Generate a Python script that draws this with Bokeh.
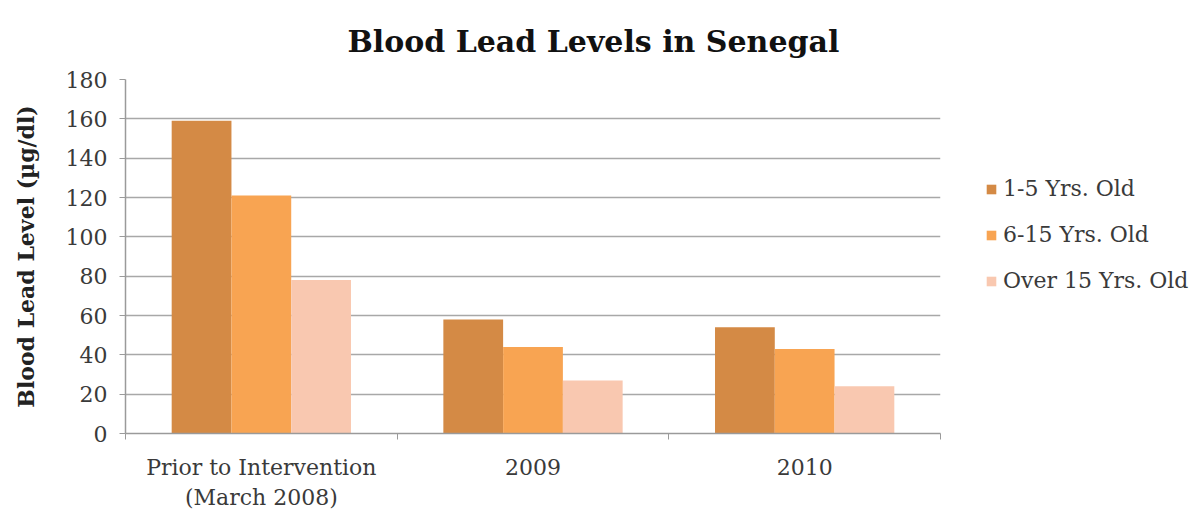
from bokeh.plotting import figure
from bokeh.models import ColumnDataSource, FixedTicker, Legend, LegendItem, Range1d, Title
from bokeh.embed import file_html
from bokeh.resources import INLINE

categories = ["Prior to Intervention\n(March 2008)", "2009", "2010"]
series_names = ["1-5 Yrs. Old", "6-15 Yrs. Old", "Over 15 Yrs. Old"]
age_1_5 = [159, 58, 54]
age_6_15 = [121, 44, 43]
age_over_15 = [78, 27, 24]
colors = ["#D48A45", "#F8A452", "#F9C8B0"]
y_ticks = [0, 20, 40, 60, 80, 100, 120, 140, 160, 180]

FONT = "DejaVu Serif"

p = figure(frame_width=815, frame_height=354, output_backend="svg", toolbar_location=None,
           x_range=Range1d(0, len(categories)), y_range=Range1d(0, 180))
p.min_border_left = 125
p.min_border_right = 0
p.min_border_top = 78
p.min_border_bottom = 88
p.outline_line_color = None
p.background_fill_color = "white"
p.border_fill_color = "white"

bar_w = 0.22
offsets = [-bar_w, 0, bar_w]
renderers = []
for vals, off, col in zip([age_1_5, age_6_15, age_over_15], offsets, colors):
    src = ColumnDataSource(dict(x=[i + 0.5 + off for i in range(len(categories))], top=vals))
    r = p.vbar(x="x", top="top", width=bar_w, bottom=0, source=src,
               fill_color=col, line_color=None)
    renderers.append(r)

# axes
p.xaxis.ticker = FixedTicker(ticks=[i + 0.5 for i in range(len(categories))],
                             minor_ticks=list(range(len(categories) + 1)))
p.xaxis.major_label_overrides = {i + 0.5: c for i, c in enumerate(categories)}
p.xaxis.major_tick_line_color = None
p.xaxis.minor_tick_line_color = "#9a9a9a"
p.xaxis.minor_tick_out = 6
p.xaxis.minor_tick_in = 0
p.xaxis.axis_line_color = "#9a9a9a"
p.xaxis.axis_line_width = 1.5
p.xaxis.major_label_text_font = FONT
p.xaxis.major_label_text_font_size = "22px"
p.xaxis.major_label_text_color = "#3a3a3a"
p.xaxis.major_label_standoff = 15

p.yaxis.ticker = FixedTicker(ticks=y_ticks, minor_ticks=[])
p.yaxis.axis_line_color = "#9a9a9a"
p.yaxis.axis_line_width = 1.5
p.yaxis.major_tick_line_color = "#9a9a9a"
p.yaxis.major_tick_out = 6
p.yaxis.major_tick_in = 0
p.yaxis.major_label_text_font = FONT
p.yaxis.major_label_text_font_size = "22px"
p.yaxis.major_label_text_color = "#3a3a3a"
p.yaxis.major_label_standoff = 12
p.yaxis.axis_label = "Blood Lead Level (µg/dl)"
p.yaxis.axis_label_text_font = FONT
p.yaxis.axis_label_text_font_size = "22px"
p.yaxis.axis_label_text_font_style = "bold"
p.yaxis.axis_label_text_color = "#222222"
p.yaxis.axis_label_standoff = 24

p.xgrid.grid_line_color = None
p.ygrid.grid_line_color = "#a8a8a8"
p.ygrid.grid_line_width = 1.5

p.title = Title(text="Blood Lead Levels in Senegal", align="left", offset=222, standoff=42,
                text_font=FONT, text_font_size="30px", text_font_style="bold",
                text_color="#111111")

legend = Legend(items=[LegendItem(label=n, renderers=[r]) for n, r in zip(series_names, renderers)],
                location=(45, 140), border_line_color=None, background_fill_alpha=0,
                label_text_font=FONT, label_text_font_size="22px", label_text_color="#3a3a3a",
                glyph_width=12, glyph_height=12, spacing=21, label_standoff=6, padding=0, margin=0)
p.add_layout(legend, "right")

open("out.html", "w").write(file_html(p, INLINE))
